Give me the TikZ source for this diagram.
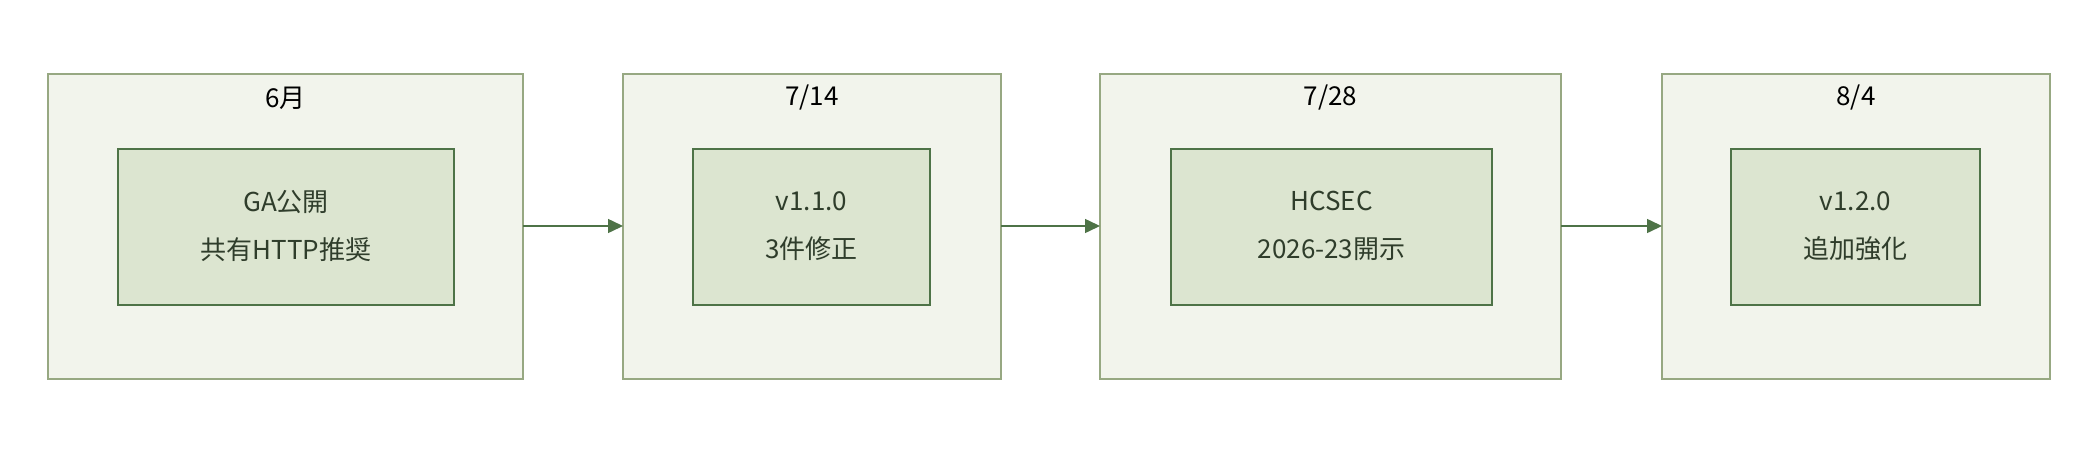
\documentclass[tikz,border=0pt]{standalone}
\usepackage{fontspec}
\setmainfont{Noto Sans CJK JP}
\usetikzlibrary{arrows.meta}
\definecolor{ofill}{HTML}{F2F4EC}
\definecolor{odraw}{HTML}{97A882}
\definecolor{ifill}{HTML}{DCE5D0}
\definecolor{idraw}{HTML}{4E7347}
\definecolor{itext}{HTML}{2F3D2B}
\begin{document}
\begin{tikzpicture}[x=1pt,y=-1pt,
 outer/.style={draw=odraw,fill=ofill,line width=1.5pt},
 inner/.style={draw=idraw,fill=ifill,line width=1.5pt},
 ttl/.style={font=\fontsize{26}{30}\selectfont,text=black},
 lbl/.style={font=\fontsize{26}{48}\selectfont,text=itext,align=center},
 arr/.style={draw=idraw,line width=1.5pt,-{Triangle[length=15pt,width=14pt]}}]
\useasboundingbox (0,0) rectangle (2098,458);
\foreach \n/\a/\b/\c/\d/\t/\l in {1/48/523/118/454/6月/{GA公開\\共有HTTP推奨},
 2/623/1001/693/930/7\slash 14/{v1.1.0\\3件修正},
 3/1100/1561/1171/1492/7\slash 28/{HCSEC\\2026-23開示},
 4/1662/2050/1731/1980/8\slash 4/{v1.2.0\\追加強化}}{
 \draw[outer] (\a,74) rectangle (\b,379);
 \coordinate (o\n w) at (\a,226); \coordinate (o\n e) at (\b,226);
 \node[ttl] (t\n) at ({(\a+\b)/2},98) {\t};
 \draw[inner] (\c,149) rectangle (\d,305);
 \node[lbl] (l\n) at ({(\c+\d)/2},226) {\l};
}
\draw[arr] (o1e) -- (o2w);
\draw[arr] (o2e) -- (o3w);
\draw[arr] (o3e) -- (o4w);
\end{tikzpicture}
\end{document}
